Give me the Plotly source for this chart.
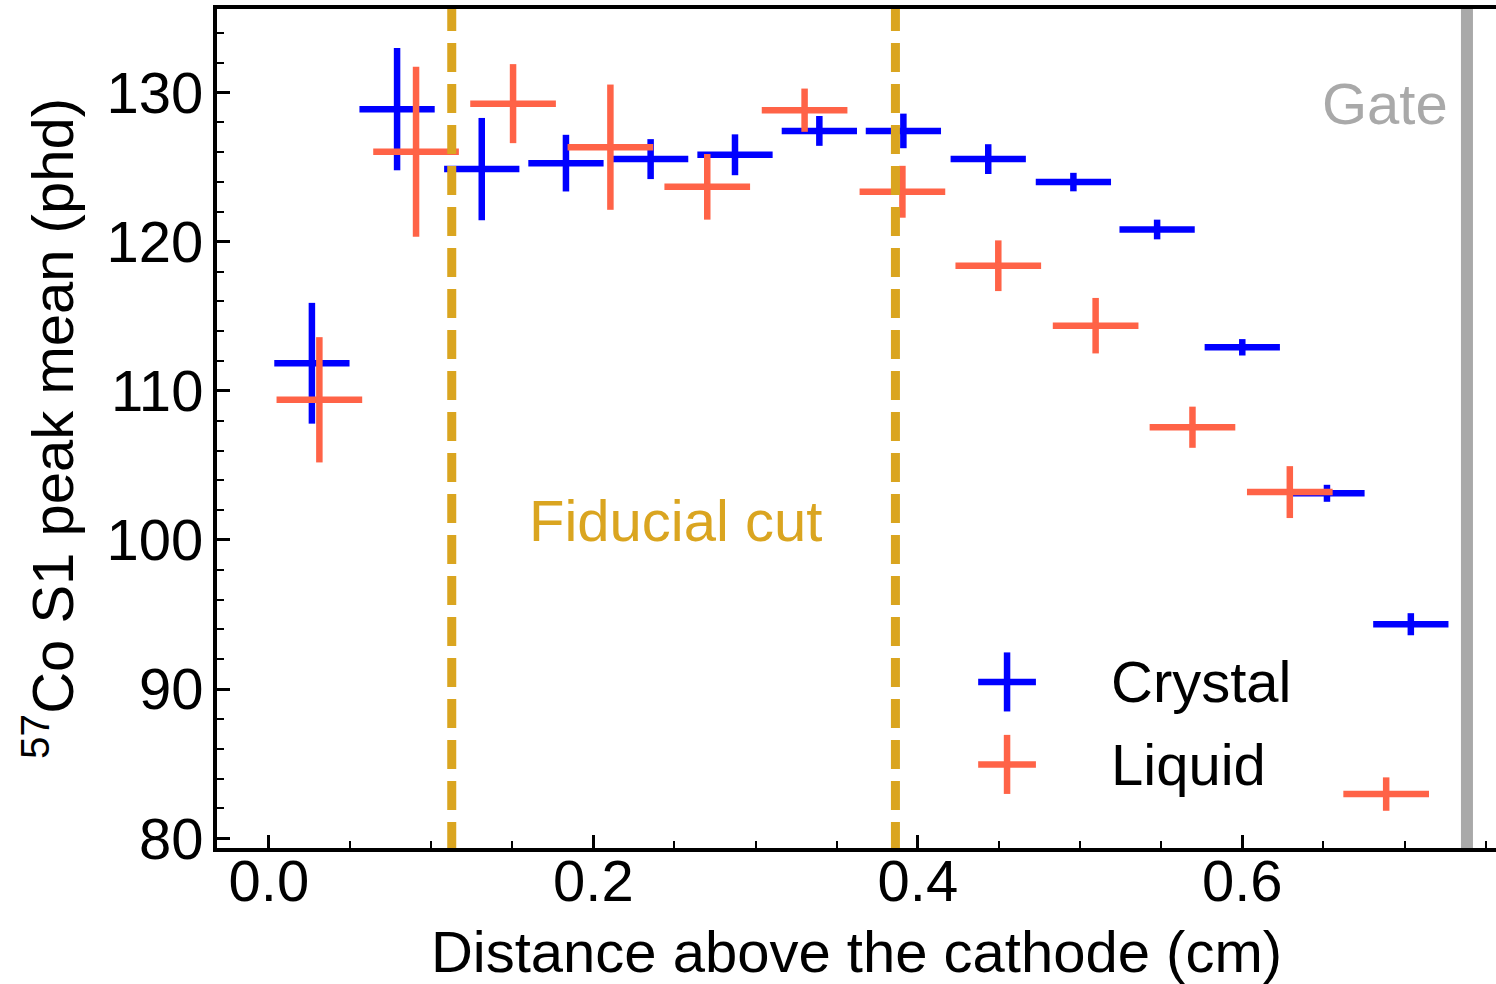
import plotly.graph_objects as go

# ---------------- data ----------------
crystal_x = [0.0265, 0.079, 0.1312, 0.1831, 0.2353, 0.2873, 0.3393, 0.3911, 0.4434, 0.4959, 0.5475, 0.600, 0.6522, 0.7039]
crystal_y = [111.85, 128.89, 124.87, 125.27, 125.54, 125.83, 127.43, 127.43, 125.54, 124.0, 120.82, 112.92, 103.13, 94.35]
crystal_yerr = [4.05, 4.1, 3.43, 1.9, 1.34, 1.37, 1.0, 1.16, 1.0, 0.62, 0.66, 0.55, 0.57, 0.74]
crystal_xerr = [0.0232] * len(crystal_x)

liquid_x = [0.0311, 0.0907, 0.1505, 0.2105, 0.2702, 0.3302, 0.3905, 0.4496, 0.5096, 0.5693, 0.6293, 0.6887]
liquid_y = [109.4, 126.03, 129.26, 126.34, 123.68, 128.82, 123.35, 118.39, 114.37, 107.56, 103.21, 82.96]
liquid_yerr = [4.2, 5.7, 2.65, 4.2, 2.2, 1.45, 1.74, 1.7, 1.86, 1.38, 1.74, 1.12]
liquid_xerr = [0.0264] * len(liquid_x)

fiducial_cuts = [0.1127, 0.3862]
gate_x = 0.7385

x_ticks = [0.0, 0.2, 0.4, 0.6]
x_ticklabels = ["0.0", "0.2", "0.4", "0.6"]
y_ticks = [80, 90, 100, 110, 120, 130]
y_ticklabels = ["80", "90", "100", "110", "120", "130"]

x_range = [-0.0320, 0.7564]
y_range = [79.344, 135.606]

BLUE = "#0000FF"
TOMATO = "#FF6347"
GOLD = "#DAA520"
GRAY = "#A9A9A9"
FONT = "Arial, Liberation Sans, sans-serif"
FS = 58

fig = go.Figure()


def add_series(xs, ys, xerr, yerr, color, name):
    fig.add_trace(go.Scatter(
        x=xs, y=ys, mode="markers", name=name,
        marker=dict(size=0, color=color),
        error_x=dict(type="data", array=xerr, symmetric=True, color=color, thickness=6.5, width=0),
        error_y=dict(type="data", array=yerr, symmetric=True, color=color, thickness=6.5, width=0),
        showlegend=False, hoverinfo="skip",
    ))


add_series(crystal_x, crystal_y, crystal_xerr, crystal_yerr, BLUE, "Crystal")
add_series(liquid_x, liquid_y, liquid_xerr, liquid_yerr, TOMATO, "Liquid")

# fiducial cut lines (dashed, above traces)
for xc in fiducial_cuts:
    fig.add_shape(type="line", xref="x", yref="y", x0=xc, x1=xc, y0=136.07, y1=y_range[0],
                  line=dict(color=GOLD, width=9, dash="29px,12px"), layer="above")

# gate line
fig.add_shape(type="line", xref="x", yref="paper", x0=gate_x, x1=gate_x, y0=0, y1=1,
              line=dict(color=GRAY, width=12), layer="below")

# text annotations
fig.add_annotation(x=0.2507, y=101.31, xref="x", yref="y", text="Fiducial cut", showarrow=False,
                   font=dict(family=FONT, size=FS, color=GOLD), xanchor="center", yanchor="middle")
fig.add_annotation(x=0.7278, y=129.24, xref="x", yref="y", text="Gate", showarrow=False,
                   font=dict(family=FONT, size=FS, color=GRAY), xanchor="right", yanchor="middle")

# legend (drawn manually)
legend_items = [("Crystal", BLUE, 90.48), ("Liquid", TOMATO, 84.95)]
leg_sym_x = 0.455
leg_half_w = 0.0178
leg_half_h = 1.98
leg_text_x = 0.5181
for label, color, ly in legend_items:
    fig.add_shape(type="line", xref="x", yref="y", x0=leg_sym_x - leg_half_w, x1=leg_sym_x + leg_half_w,
                  y0=ly, y1=ly, line=dict(color=color, width=6.5))
    fig.add_shape(type="line", xref="x", yref="y", x0=leg_sym_x, x1=leg_sym_x,
                  y0=ly - leg_half_h, y1=ly + leg_half_h, line=dict(color=color, width=6.5))
    fig.add_annotation(x=leg_text_x, y=ly, xref="x", yref="y", text=label, showarrow=False,
                       font=dict(family=FONT, size=FS, color="black"), xanchor="left", yanchor="middle")

fig.update_layout(
    width=1496, height=984,
    margin=dict(l=217, r=0, t=9, b=136, autoexpand=False),
    paper_bgcolor="white", plot_bgcolor="white",
    font=dict(family=FONT, size=FS, color="black"),
    showlegend=False,
)

fig.update_xaxes(
    automargin=False,
    range=x_range, showgrid=False, zeroline=False,
    showline=True, linecolor="black", linewidth=4, mirror=True,
    ticks="inside", ticklen=13, tickwidth=3, tickcolor="black",
    tickvals=x_ticks, ticktext=x_ticklabels, ticklabelstandoff=-21,
    tickfont=dict(family=FONT, size=FS, color="black"),
    minor=dict(ticks="inside", ticklen=7, tickwidth=2, tickcolor="black", dtick=0.05, tick0=0, showgrid=False),
    title=dict(text="Distance above the cathode (cm)", font=dict(family=FONT, size=FS, color="black"), standoff=42),
)
fig.update_yaxes(
    automargin=False,
    range=y_range, showgrid=False, zeroline=False,
    showline=True, linecolor="black", linewidth=4, mirror=False,
    ticks="inside", ticklen=13, tickwidth=3, tickcolor="black",
    tickvals=y_ticks, ticktext=y_ticklabels, ticklabelstandoff=-2,
    tickfont=dict(family=FONT, size=FS, color="black"),
    minor=dict(ticks="inside", ticklen=7, tickwidth=2, tickcolor="black", dtick=2, tick0=0, showgrid=False),
    title=dict(text="<sup>57</sup>Co S1 peak mean (phd)", font=dict(family=FONT, size=FS, color="black"), standoff=15),
)

fig.write_html("out.html", config={"displayModeBar": False})

# remove the default page margin so the figure sits at the window's top-left corner
with open("out.html", "r", encoding="utf-8") as f:
    html = f.read()
html = html.replace("<head>", "<head><style>html,body{margin:0;padding:0;overflow:hidden;}</style>", 1)
with open("out.html", "w", encoding="utf-8") as f:
    f.write(html)
